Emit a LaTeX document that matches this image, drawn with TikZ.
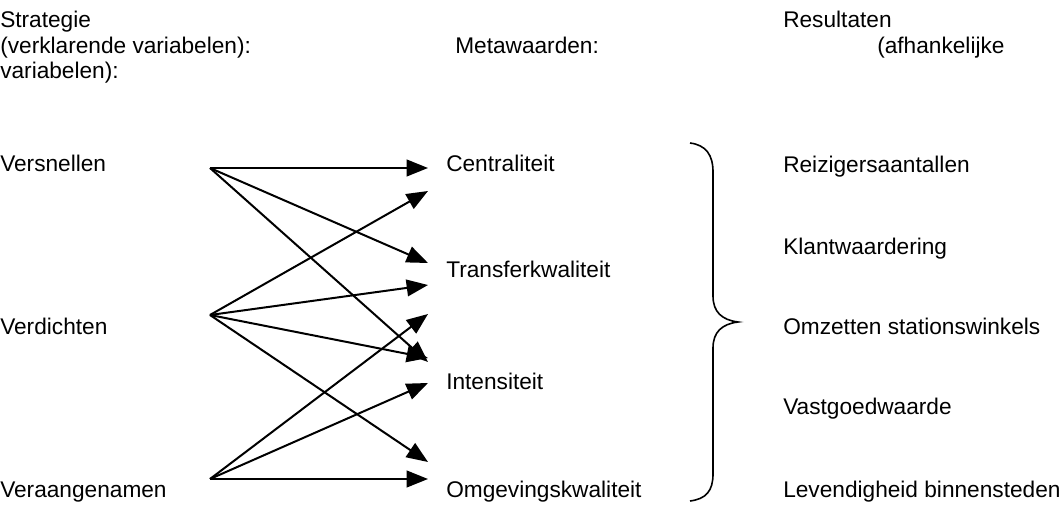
\documentclass[tikz,border=0pt]{standalone}
\usepackage{fontspec}
\setmainfont{Liberation Sans}
\usetikzlibrary{arrows.meta}

\tikzset{
  lbl/.style={anchor=base west, inner sep=0pt, font=\fontsize{17pt}{20pt}\selectfont},
  pijl/.style={line width=1.5pt, -{Triangle[length=16pt, width=12.5pt]}}
}

\begin{document}
\begin{tikzpicture}[x=0.75pt,y=-0.75pt]
\useasboundingbox (0,0) rectangle (1063,505);
\node[lbl] (kop1) at (0,28) {Strategie};
\node[lbl] (kop2) at (0,54) {(verklarende variabelen):};
\node[lbl] (kop3) at (0,79) {variabelen):};
\node[lbl] (meta) at (455,54) {Metawaarden:};
\node[lbl] (res1) at (783,28) {Resultaten};
\node[lbl] (res2) at (877,54) {(afhankelijke};
\node[lbl] (versnellen) at (0,172) {Versnellen};
\node[lbl] (verdichten) at (0,335) {Verdichten};
\node[lbl] (veraangenamen) at (0,497) {Veraangenamen};
\node[lbl] (centraliteit) at (446,172) {Centraliteit};
\node[lbl] (transfer) at (446,278) {Transferkwaliteit};
\node[lbl] (intensiteit) at (446,390) {Intensiteit};
\node[lbl] (omgeving) at (446,497) {Omgevingskwaliteit};
\node[lbl] (reizigers) at (783,173) {Reizigersaantallen};
\node[lbl] (klant) at (783,255) {Klantwaardering};
\node[lbl] (omzet) at (783,335) {Omzetten stationswinkels};
\node[lbl] (vastgoed) at (783,415) {Vastgoedwaarde};
\node[lbl] (levendig) at (783,497) {Levendigheid binnensteden};
\coordinate (vs) at (210,168);
\coordinate (vd) at (210,315);
\coordinate (va) at (210,479);
\coordinate (c1) at (428,168);
\coordinate (c2) at (428,191);
\coordinate (t1) at (428,263);
\coordinate (t2) at (428,285);
\coordinate (i1) at (428,314);
\coordinate (i2) at (428,358);
\coordinate (i3) at (428,362);
\coordinate (i4) at (428,383);
\coordinate (o1) at (428,462);
\coordinate (o2) at (428,479);
\draw[pijl] (vs) -- (c1);
\draw[pijl] (vs) -- (t1);
\draw[pijl] (vs) -- (i3);
\draw[pijl] (vd) -- (c2);
\draw[pijl] (vd) -- (t2);
\draw[pijl] (vd) -- (i2);
\draw[pijl] (vd) -- (o1);
\draw[pijl] (va) -- (i1);
\draw[pijl] (va) -- (i4);
\draw[pijl] (va) -- (o2);
\draw[line width=1.2pt] (690,143) .. controls (706,145) and (713,155) .. (713,172) -- (713,296)
  .. controls (713,312) and (722,320) .. (738,322) .. controls (722,324) and (713,332) .. (713,348)
  -- (713,474) .. controls (713,491) and (706,499) .. (690,501);
\end{tikzpicture}
\end{document}
